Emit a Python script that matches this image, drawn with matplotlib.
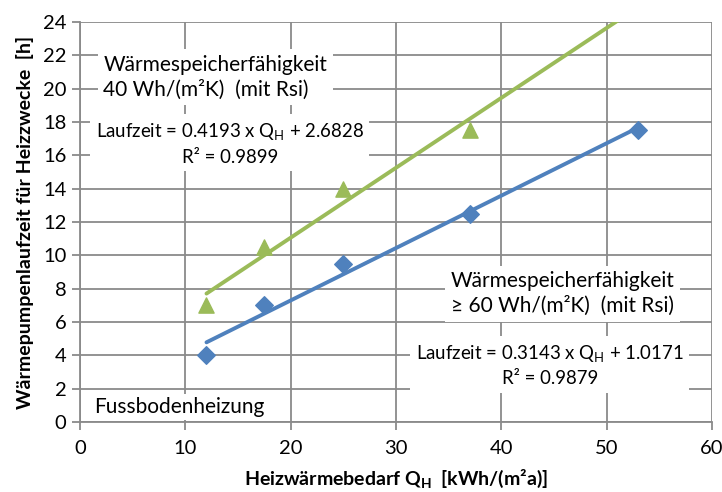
import numpy as np
import matplotlib.pyplot as plt

plt.rcParams['font.family'] = ['Lato', 'DejaVu Sans']

# Wärmespeicherfähigkeit >= 60 Wh/(m2K)
q_blue = [12, 17.5, 25, 37, 53]
t_blue = [4, 7, 9.5, 12.5, 17.5]
# Wärmespeicherfähigkeit 40 Wh/(m2K)
q_green = [12, 17.5, 25, 37]
t_green = [7, 10.5, 14, 17.5]

# trendline coefficients (from chart)
k_blue, d_blue = 0.3143, 1.0171
k_green, d_green = 0.4193, 2.6828

blue = '#4F81BD'
green = '#9BBB59'
grid = '#8a8a8a'


def main():
    fig = plt.figure(figsize=(7.22, 4.92), dpi=100)
    ax = fig.add_axes([0.111, 0.142, 0.875, 0.813])

    ax.set_xlim(0, 60)
    ax.set_ylim(0, 24)
    ax.set_xticks(range(0, 61, 10))
    ax.set_yticks(range(0, 25, 2))
    ax.grid(True, color=grid, linewidth=1.3)
    ax.set_axisbelow(True)
    for s in ['top', 'right']:
        ax.spines[s].set_visible(False)
    for s in ['left', 'bottom']:
        ax.spines[s].set_color(grid)
        ax.spines[s].set_linewidth(1.3)
    ax.tick_params(length=6, width=1.3, color=grid, labelsize=14.5, pad=4)
    ax.tick_params(axis='x', pad=7)

    ax.scatter(q_blue, t_blue, marker='D', s=80, color=blue, zorder=3)
    ax.scatter(q_green, t_green, marker='^', s=120, color=green, zorder=3)

    xb = np.array([q_blue[0], q_blue[-1]])
    ax.plot(xb, k_blue * xb + d_blue, color=blue, lw=2.8, zorder=4,
            solid_capstyle='round')
    ax.plot(xb, k_green * xb + d_green, color=green, lw=2.8, zorder=4,
            solid_capstyle='round')

    box = dict(facecolor='white', edgecolor='none', pad=4)
    ax.text(2.2, 20.7, 'Wärmespeicherfähigkeit\n40 Wh/(m²K)  (mit Rsi)',
            fontsize=15, ha='left', va='center', linespacing=1.3,
            bbox=box, zorder=5)
    ax.text(14.2, 16.7, 'Laufzeit = 0.4193 x Q$_\\mathregular{H}$ + 2.6828\nR² = 0.9899',
            fontsize=13.4, ha='center', va='center', linespacing=1.4,
            bbox=box, zorder=5)
    ax.text(45.8, 7.7, 'Wärmespeicherfähigkeit\n≥ 60 Wh/(m²K)  (mit Rsi)',
            fontsize=15, ha='center', va='center', linespacing=1.3,
            bbox=box, zorder=5)
    ax.text(44.6, 3.4, 'Laufzeit = 0.3143 x Q$_\\mathregular{H}$ + 1.0171\nR² = 0.9879',
            fontsize=13.4, ha='center', va='center', linespacing=1.35,
            bbox=box, zorder=5)
    ax.text(1.3, 0.9, 'Fussbodenheizung', fontsize=15, ha='left', va='center',
            bbox=dict(facecolor='white', edgecolor='none', pad=2), zorder=5)

    ax.set_xlabel('Heizwärmebedarf Q$_\\mathregular{H}$  [kWh/(m²a)]',
                  fontsize=14, fontweight='bold', labelpad=7)
    ax.set_ylabel('Wärmepumpenlaufzeit für Heizzwecke  [h]',
                  fontsize=14, fontweight='bold', labelpad=6)

    fig.savefig('out.png', dpi=100)


main()
